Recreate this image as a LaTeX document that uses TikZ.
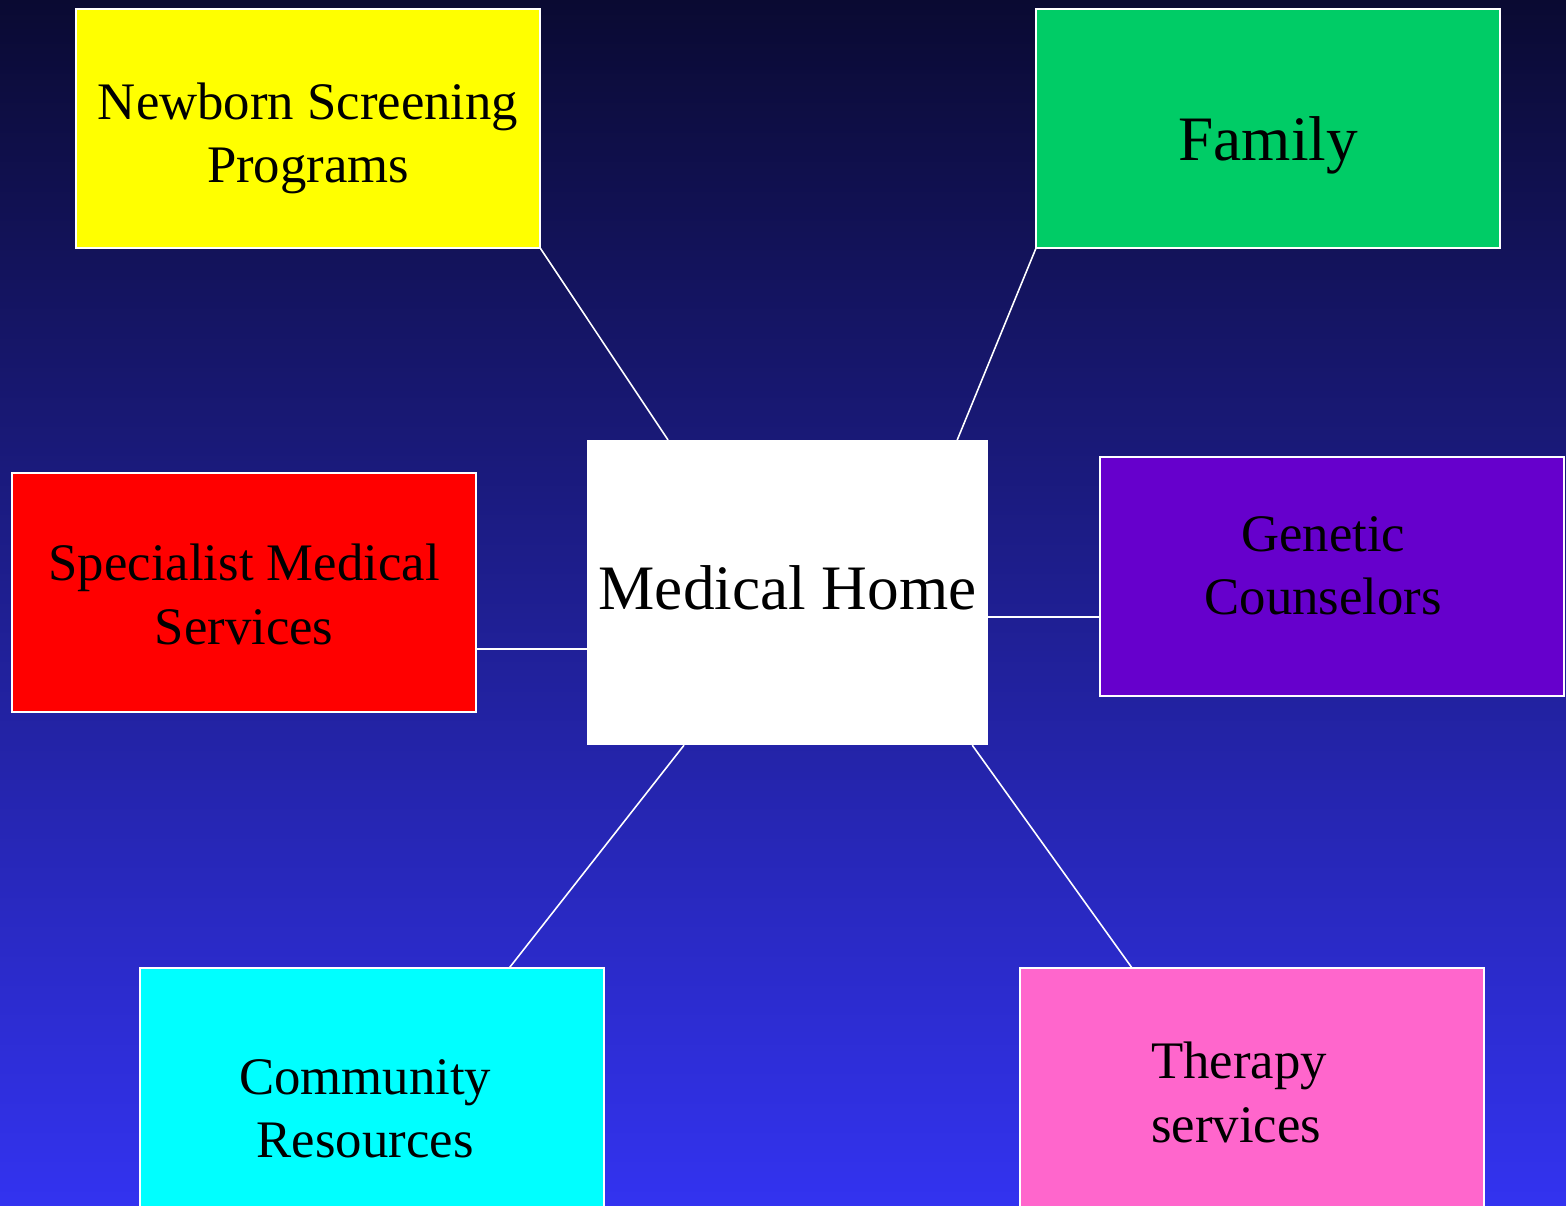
\documentclass[tikz,border=0pt]{standalone}
\usepackage{fontspec}
\setmainfont{Liberation Serif}
\usetikzlibrary{positioning}

\definecolor{bgtop}{RGB}{10,10,50}
\definecolor{bgmid}{RGB}{36,36,190}
\definecolor{bgbot}{RGB}{51,51,240}
\definecolor{nbyellow}{RGB}{255,255,0}
\definecolor{famgreen}{RGB}{0,204,102}
\definecolor{spred}{RGB}{255,0,0}
\definecolor{genpurple}{RGB}{102,0,204}
\definecolor{comcyan}{RGB}{0,255,255}
\definecolor{thpink}{RGB}{255,102,204}

\tikzset{
  box/.style={draw=white, line width=0.5pt, outer sep=0, inner sep=0, anchor=north west, minimum width=4.64cm, minimum height=2.39cm},
  boxtext/.style={inner sep=0, align=center, font=\fontsize{15}{18}\selectfont},
  bigtext/.style={inner sep=0, align=center, font=\fontsize{18}{21}\selectfont},
  link/.style={draw=white, line width=0.45pt}
}

\begin{document}
\begin{tikzpicture}[x=0.01cm, y=-0.01cm]
  % background
  \shade[top color=bgtop, middle color=bgmid, bottom color=bgbot] (0,0) rectangle (1566,1206);
  \useasboundingbox (0,0) rectangle (1566,1206);

  \node [anchor=north west, outer sep=0, inner sep=0, fill=white, minimum width=4.01cm, minimum height=3.05cm,
    label={[bigtext, shift={(0,0.05cm)}]center:Medical Home}] (home) at (587,440) {};

  \node [box, fill=nbyellow, label={[boxtext, shift={(0,-0.10cm)}]center:{Newborn Screening\\Programs}}] (newborn) at (76,9) {};
  \node [box, fill=famgreen, label={[bigtext, shift={(0,-0.17cm)}]center:Family}] (family) at (1036,9) {};
  \node [box, fill=spred, label={[boxtext, shift={(0,-0.02cm)}]center:{Specialist Medical\\Services}}] (specialist) at (12,473) {};
  \node [box, fill=genpurple, label={[boxtext, shift={(-0.09cm,0.11cm)}]center:{Genetic\\Counselors}}] (genetic) at (1100,457) {};
  \node [box, fill=comcyan, label={[boxtext, shift={(-0.07cm,-0.21cm)}]center:{Community\\Resources}}] (community) at (140,968) {};
  \node [box, fill=thpink, label={[boxtext, align=left, shift={(-0.13cm,-0.05cm)}]center:{Therapy\\services}}] (therapy) at (1020,968) {};

  % links to the medical home
  \draw [link] (newborn.south east) -- ([xshift=0.81cm]home.north west);
  \draw [link] (family.south west) -- ([xshift=-0.31cm]home.north east);
  \draw [link] ([yshift=-0.565cm]specialist.east) -- ([yshift=-0.565cm]specialist.east -| home.west);
  \draw [link] ([yshift=-0.405cm]genetic.west) -- ([yshift=-0.405cm]genetic.west -| home.east);
  \draw [link] ([xshift=0.97cm]home.south west) -- ([xshift=-0.95cm]community.north east);
  \draw [link] ([xshift=-0.16cm]home.south east) -- ([xshift=1.12cm]therapy.north west);
\end{tikzpicture}
\end{document}
